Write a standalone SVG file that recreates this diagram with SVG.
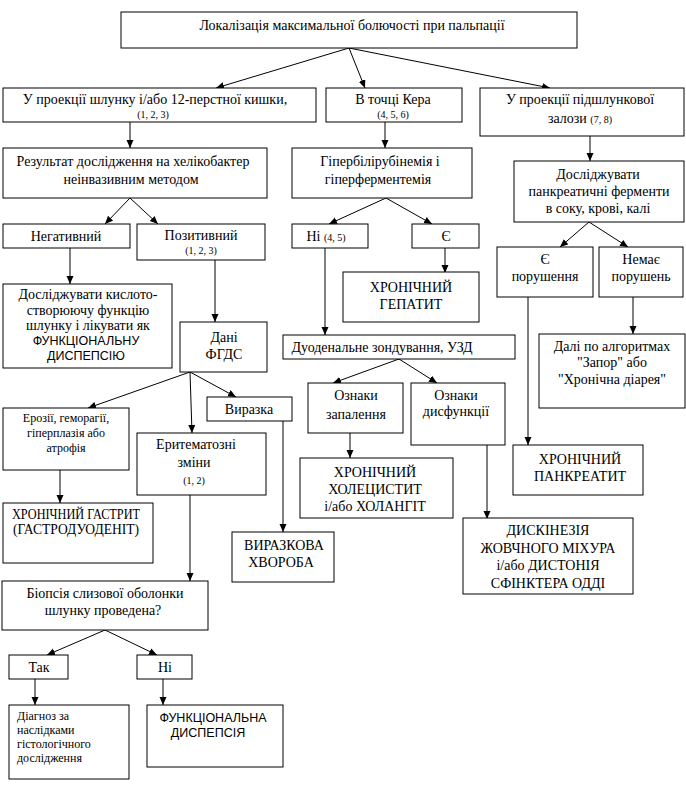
<svg xmlns="http://www.w3.org/2000/svg" width="686" height="793" viewBox="0 0 686 793" font-family="'Liberation Serif', 'Times New Roman', 'DejaVu Serif', serif">
<style>
rect{fill:#fff;stroke:#000;stroke-width:1}
text{font-size:14px;fill:#000;text-anchor:middle}
.s{font-size:10px}
.m{font-size:12px}
.a{font-family:'Liberation Sans', Arial, sans-serif;font-size:12.5px}
.l{text-anchor:start;font-size:12px}
#conn line{stroke:#000;stroke-width:1;fill:none}
</style>
<defs>
<marker id="ah" markerWidth="8" markerHeight="8" refX="8" refY="3.5" orient="auto" markerUnits="userSpaceOnUse"><path d="M0,0 L8,3.5 L0,7 z" fill="#000"/></marker>
</defs>
<rect x="0" y="0" width="686" height="793" style="stroke:none"/>

<g id="conn">
<line x1="349" y1="48" x2="216" y2="88" marker-end="url(#ah)"/>
<line x1="349" y1="48" x2="365" y2="88" marker-end="url(#ah)"/>
<line x1="349" y1="48" x2="550" y2="88" marker-end="url(#ah)"/>
<line x1="130" y1="122" x2="130" y2="148" marker-end="url(#ah)"/>
<line x1="385" y1="122" x2="385" y2="148" marker-end="url(#ah)"/>
<line x1="590" y1="136" x2="590" y2="161" marker-end="url(#ah)"/>
<line x1="130" y1="198" x2="105" y2="224" marker-end="url(#ah)"/>
<line x1="130" y1="198" x2="158" y2="224" marker-end="url(#ah)"/>
<line x1="386" y1="198" x2="329" y2="224" marker-end="url(#ah)"/>
<line x1="386" y1="198" x2="432" y2="224" marker-end="url(#ah)"/>
<line x1="589" y1="222" x2="560" y2="247" marker-end="url(#ah)"/>
<line x1="589" y1="222" x2="628" y2="247" marker-end="url(#ah)"/>
<line x1="70" y1="248" x2="70" y2="284" marker-end="url(#ah)"/>
<line x1="215" y1="260" x2="215" y2="322" marker-end="url(#ah)"/>
<line x1="445" y1="248" x2="445" y2="273" marker-end="url(#ah)"/>
<line x1="325" y1="248" x2="325" y2="335" marker-end="url(#ah)"/>
<line x1="528" y1="297" x2="528" y2="445" marker-end="url(#ah)"/>
<line x1="633" y1="297" x2="633" y2="334" marker-end="url(#ah)"/>
<line x1="190" y1="372" x2="88" y2="408" marker-end="url(#ah)"/>
<line x1="190" y1="372" x2="192" y2="433" marker-end="url(#ah)"/>
<line x1="190" y1="372" x2="236" y2="397" marker-end="url(#ah)"/>
<line x1="399" y1="359" x2="333" y2="383" marker-end="url(#ah)"/>
<line x1="399" y1="359" x2="437" y2="383" marker-end="url(#ah)"/>
<line x1="350" y1="433" x2="350" y2="458" marker-end="url(#ah)"/>
<line x1="487" y1="445" x2="487" y2="519" marker-end="url(#ah)"/>
<line x1="283" y1="421" x2="283" y2="532" marker-end="url(#ah)"/>
<line x1="60" y1="470" x2="60" y2="503" marker-end="url(#ah)"/>
<line x1="190" y1="495" x2="190" y2="581" marker-end="url(#ah)"/>
<line x1="105" y1="630" x2="47" y2="655" marker-end="url(#ah)"/>
<line x1="105" y1="630" x2="157" y2="655" marker-end="url(#ah)"/>
<line x1="35" y1="679" x2="35" y2="705" marker-end="url(#ah)"/>
<line x1="163" y1="679" x2="163" y2="705" marker-end="url(#ah)"/>
</g>

<g id="n-top"><rect x="121" y="12" width="456" height="36"/><text x="352" y="30">Локалізація максимальної болючості при пальпації</text></g>

<g id="n-stomach"><rect x="3" y="88" width="313" height="34"/><text x="155" y="104">У проекції шлунку і/або 12-перстної кишки,</text><text class="s" x="153" y="118">(1, 2, 3)</text></g>
<g id="n-ker"><rect x="326" y="88" width="136" height="34"/><text x="393" y="104">В точці Кера</text><text class="s" x="393" y="118">(4, 5, 6)</text></g>
<g id="n-pancproj"><rect x="480" y="88" width="204" height="48"/><text x="580" y="104">У проекції підшлункової</text><text x="580" y="123">залози <tspan class="s">(7, 8)</tspan></text></g>

<g id="n-helico"><rect x="3" y="148" width="264" height="50"/><text x="133" y="166">Результат дослідження на хелікобактер</text><text x="131" y="184">неінвазивним методом</text></g>
<g id="n-hyper"><rect x="292" y="148" width="180" height="50"/><text x="380" y="166">Гіпербілірубінемія і</text><text x="378" y="184">гіперферментемія</text></g>
<g id="n-enzymes"><rect x="514" y="161" width="170" height="61"/><text x="598" y="179">Досліджувати</text><text x="599" y="196">панкреатичні ферменти</text><text x="598" y="213">в соку, крові, калі</text></g>

<g id="n-neg"><rect x="3" y="224" width="127" height="24"/><text x="66" y="241">Негативний</text></g>
<g id="n-pos"><rect x="137" y="224" width="128" height="36"/><text x="201" y="240">Позитивний</text><text class="s" x="201" y="254">(1, 2, 3)</text></g>
<g id="n-no45"><rect x="292" y="224" width="76" height="24"/><text x="326" y="241">Ні <tspan class="s">(4, 5)</tspan></text></g>
<g id="n-yes"><rect x="412" y="224" width="67" height="24"/><text x="446" y="241">Є</text></g>
<g id="n-disorders"><rect x="497" y="247" width="96" height="50"/><text x="545" y="264">Є</text><text x="545" y="281">порушення</text></g>
<g id="n-nodisorders"><rect x="599" y="247" width="84" height="50"/><text x="641" y="264">Немає</text><text x="641" y="281">порушень</text></g>

<g id="n-acid"><rect x="3" y="284" width="169" height="84"/><text x="88" y="299">Досліджувати кислото-</text><text x="88" y="315">створюючу функцію</text><text x="88" y="330">шлунку і лікувати як</text><text class="a" x="86" y="345">ФУНКЦІОНАЛЬНУ</text><text class="a" x="86" y="360">ДИСПЕПСІЮ</text></g>
<g id="n-hepatitis"><rect x="343" y="272" width="136" height="50"/><text x="411" y="292">ХРОНІЧНИЙ</text><text x="411" y="309">ГЕПАТИТ</text></g>
<g id="n-fgds"><rect x="180" y="322" width="87" height="50"/><text x="224" y="342">Дані</text><text x="224" y="359">ФГДС</text></g>
<g id="n-duod"><rect x="283" y="335" width="232" height="24"/><text x="382" y="352">Дуоденальне зондування, УЗД</text></g>
<g id="n-further"><rect x="539" y="334" width="146" height="74"/><text x="612" y="351">Далі по алгоритмах</text><text x="612" y="367">"Запор" або</text><text x="612" y="384">"Хронічна діарея"</text></g>

<g id="n-erosion"><rect x="3" y="408" width="126" height="62"/><text class="m" x="66" y="422">Ерозії, геморагії,</text><text class="m" x="66" y="437">гіперплазія або</text><text class="m" x="66" y="452">атрофія</text></g>
<g id="n-ulcer"><rect x="207" y="397" width="85" height="24"/><text x="249" y="414">Виразка</text></g>
<g id="n-inflam"><rect x="308" y="383" width="95" height="50"/><text x="356" y="400">Ознаки</text><text x="356" y="419">запалення</text></g>
<g id="n-dysf"><rect x="411" y="383" width="94" height="62"/><text x="456" y="400">Ознаки</text><text x="456" y="416">дисфункції</text></g>
<g id="n-eryth"><rect x="137" y="433" width="129" height="62"/><text x="196" y="449">Еритематозні</text><text x="194" y="467">зміни</text><text class="s" x="194" y="484">(1, 2)</text></g>
<g id="n-pancreatitis"><rect x="513" y="445" width="130" height="50"/><text x="580" y="464">ХРОНІЧНИЙ</text><text x="580" y="481">ПАНКРЕАТИТ</text></g>
<g id="n-cholec"><rect x="300" y="458" width="153" height="60"/><text x="375" y="477">ХРОНІЧНИЙ</text><text x="375" y="494">ХОЛЕЦИСТИТ</text><text x="375" y="511">і/або ХОЛАНГІТ</text></g>
<g id="n-gastritis"><rect x="3" y="503" width="150" height="60"/><text x="76" y="519" font-size="13" textLength="128" lengthAdjust="spacingAndGlyphs">ХРОНІЧНИЙ ГАСТРИТ</text><text x="76" y="534" font-size="13" textLength="126" lengthAdjust="spacingAndGlyphs">(ГАСТРОДУОДЕНІТ)</text></g>
<g id="n-ulcerdis"><rect x="232" y="532" width="102" height="50"/><text x="284" y="550">ВИРАЗКОВА</text><text x="281" y="567">ХВОРОБА</text></g>
<g id="n-dyskin"><rect x="463" y="518" width="170" height="76"/><text x="548" y="535">ДИСКІНЕЗІЯ</text><text x="548" y="553">ЖОВЧНОГО МІХУРА</text><text x="548" y="570">і/або ДИСТОНІЯ</text><text x="548" y="588">СФІНКТЕРА ОДДІ</text></g>

<g id="n-biopsy"><rect x="2" y="581" width="206" height="49"/><text x="105" y="598">Біопсія слизової оболонки</text><text x="103" y="615">шлунку проведена?</text></g>
<g id="n-yes2"><rect x="9" y="655" width="59" height="24"/><text x="39" y="672">Так</text></g>
<g id="n-no2"><rect x="137" y="655" width="55" height="24"/><text x="165" y="672">Ні</text></g>
<g id="n-histo"><rect x="9" y="705" width="120" height="74"/><text class="l" x="17" y="720">Діагноз за</text><text class="l" x="17" y="734">наслідками</text><text class="l" x="17" y="748">гістологічного</text><text class="l" x="17" y="762">дослідження</text></g>
<g id="n-fd"><rect x="147" y="705" width="136" height="62"/><text class="a" x="213" y="722" font-size="12">ФУНКЦІОНАЛЬНА</text><text class="a" x="208" y="737" font-size="12">ДИСПЕПСІЯ</text></g>
</svg>
